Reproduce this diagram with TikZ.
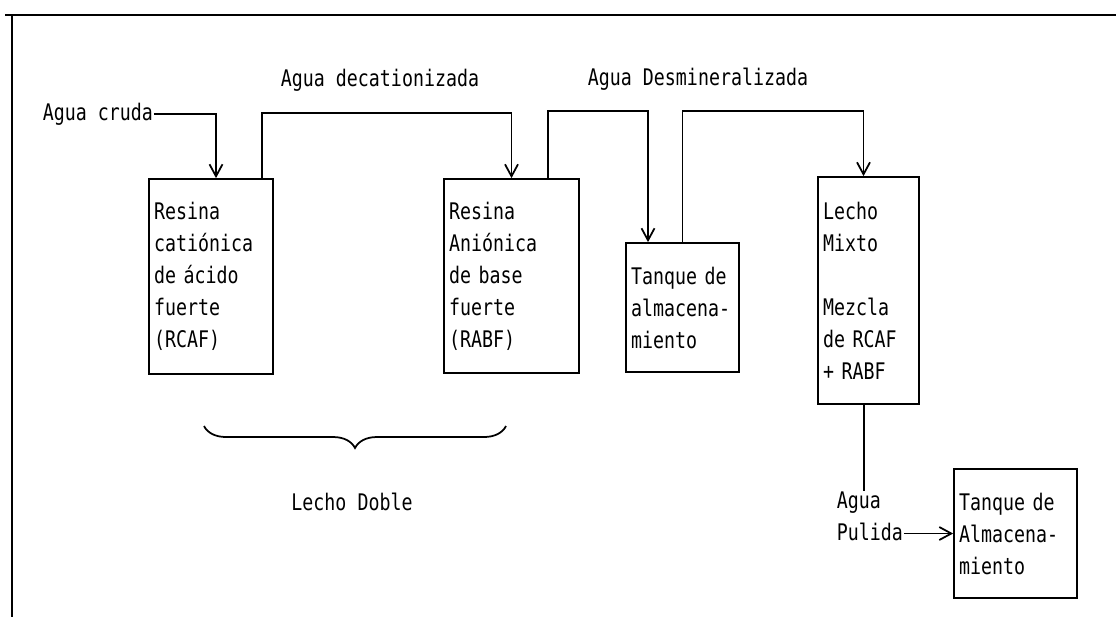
\documentclass[tikz,border=0pt]{standalone}
\usepackage{fontspec}
\newfontfamily\dotfont[FakeStretch=0.8]{DejaVu Sans Mono}
\usetikzlibrary{arrows.meta,calc,decorations.pathreplacing}

\begin{document}
\begin{tikzpicture}[font={\dotfont\fontsize{13}{18.2}\selectfont},line width=1pt,
box/.style={draw,align=left,inner xsep=.1cm,inner ysep=0pt},
lbl/.style={inner sep=0pt,align=left},
flow/.style={-{Straight Barb[length=.24cm,width=.26cm]}}]
\useasboundingbox(0,0)rectangle(22.32,-12.34);
% marco
\draw(.1,-.3)--(22.32,-.3);\draw(.24,-.3)--(.24,-12.34);
% equipos
\node[box,text width=2.28cm,minimum height=3.9cm](rcaf)at(4.22,-5.53){Resina\\catiónica\\de ácido\\fuerte\\(RCAF)};
\node[box,text width=2.5cm,minimum height=3.88cm](rabf)at(10.23,-5.52){Resina\\Aniónica\\de base\\fuerte\\(RABF)};
\node[box,text width=2.06cm,minimum height=2.58cm](tanque)at(13.65,-6.15){Tanque de\\almacena-\\miento};
\node[box,text width=1.82cm,minimum height=4.54cm](mixto)at(17.37,-5.81){Lecho\\Mixto\\[.64cm]Mezcla\\de RCAF\\+ RABF};
\node[box,text width=2.26cm,minimum height=2.58cm](almac)at(20.31,-10.67){Tanque de\\Almacena-\\miento};
% rotulos
\node[lbl,anchor=west](cruda)at(.84,-2.28){Agua cruda};
\node[lbl](decat)at(7.6,-1.6){Agua decationizada};
\node[lbl](desmin)at(13.96,-1.58){Agua Desmineralizada};
\node[lbl](doble)at(7.04,-10.04){Lecho Doble};
\node[lbl,anchor=west](pulida)at(16.72,-10.32){Agua\\Pulida};
% corrientes
\draw[flow](cruda.east)-|($(rcaf.north)+(.1,0)$);
\draw[flow]($(rcaf.north east)+(-.24,0)$)--++(0,1.3)-|(rabf.north);
\draw[flow]($(rabf.north east)+(-.64,0)$)--++(0,1.34)-|($(tanque.north)+(-.69,0)$);
\draw[flow](tanque.north)--++(0,2.62)-|($(mixto.north)+(-.1,0)$);
\coordinate(sal)at($(mixto.south)+(-.09,0)$);
\draw(sal)--(sal|-pulida.north);
\draw[flow](pulida.east|-almac.west)--(almac.west);
% llave
\coordinate(b1)at(4.08,-8.52);\coordinate(b2)at(10.12,-8.52);
\draw[decorate,decoration={brace,mirror,amplitude=.44cm}](b1)--(b2);
\end{tikzpicture}
\end{document}
